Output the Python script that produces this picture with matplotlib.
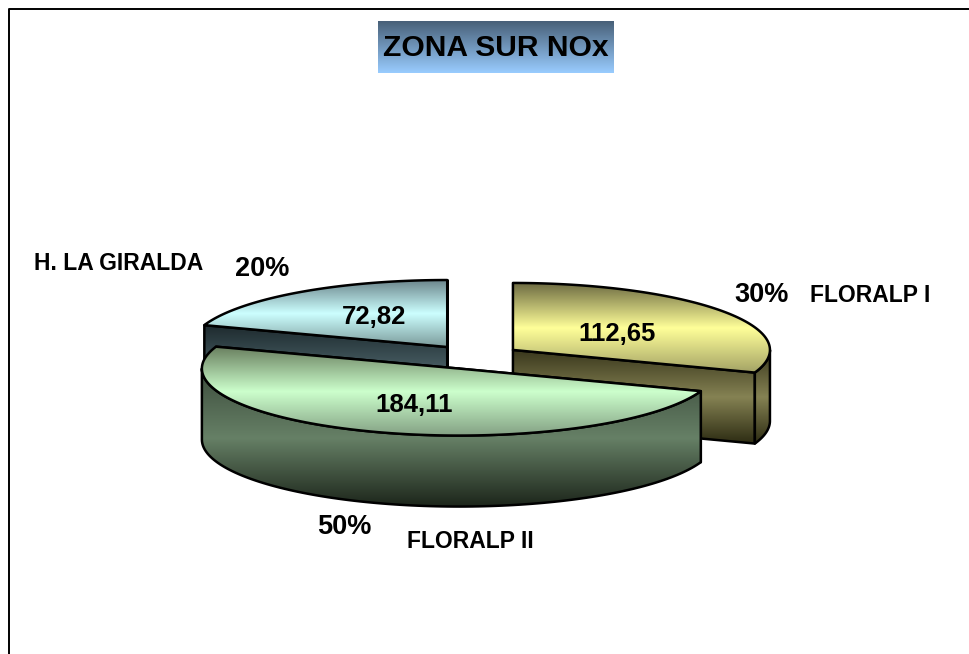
"""
ZONA SUR NOx - pie 3D con porciones separadas
"""
import matplotlib
matplotlib.use('Agg')
import matplotlib.pyplot as plt
import numpy as np
from matplotlib.colors import LinearSegmentedColormap
from matplotlib.patches import Polygon

# Datos
names = ['FLORALP I', 'FLORALP II', 'H. LA GIRALDA']
values = [112.65, 184.11, 72.82]
value_labels = ['112,65', '184,11', '72,82']
pct_labels = ['30%', '50%', '20%']
title = 'ZONA SUR NOx'

# Gradientes verticales (arriba, medio, abajo)
top_colors = [['#6d6b42', '#ffff99', '#a3a265'],
              ['#6a8060', '#ccffcc', '#83a083'],
              ['#6c868c', '#ccffff', '#7b9a9a']]
wall_colors = [['#39371c', '#858253', '#2c2b12'],
               ['#3d4d3d', '#668066', '#1c251a'],
               ['#1d2a2e', '#4a6066', '#607a80']]

# Geometria en pixeles de la imagen
CX, CY = 474.5, 357.0
RX, RY = 257.0, 67.0
DEPTH = 71.0
EXPLODE = 47.0
LW = 1.8


def rim(cx, cy, a):
    # angulo en grados, 0 arriba, sentido horario
    a = np.radians(a)
    return cx + RX * np.sin(a), cy - RY * np.cos(a)


def fill_gradient(ax, pts, colors, z):
    pts = np.asarray(pts)
    x0, x1 = pts[:, 0].min(), pts[:, 0].max()
    y0, y1 = pts[:, 1].min(), pts[:, 1].max()
    cmap = LinearSegmentedColormap.from_list('g', colors)
    grad = np.linspace(0, 1, 256).reshape(-1, 1)
    im = ax.imshow(grad, cmap=cmap, extent=(x0, x1, y1, y0), aspect='auto',
                   zorder=z, interpolation='bilinear')
    patch = Polygon(pts, closed=True, transform=ax.transData)
    im.set_clip_path(patch)
    ax.add_patch(Polygon(pts, closed=True, fill=False, edgecolor='black',
                         linewidth=LW, joinstyle='round', zorder=z + 0.1))


fig = plt.figure(figsize=(9.69, 6.54), dpi=100)
ax = fig.add_axes([0, 0, 1, 1])
ax.set_xlim(0, 969)
ax.set_ylim(654, 0)
ax.axis('off')

# Marco
ax.plot([9, 9, 969], [654, 8.5, 8.5], color='black', lw=1.4, zorder=1)

# Porciones
total = sum(values)
angles = np.concatenate([[0], np.cumsum(values) / total * 360])
draw_order = [0, 2, 1]
for rank, i in enumerate(draw_order):
    start, end = angles[i], angles[i + 1]
    mid = np.radians((start + end) / 2)
    cx = CX + EXPLODE * np.sin(mid)
    cy = CY - EXPLODE * RY / RX * np.cos(mid)
    z = 2 + rank

    # cara de corte visible
    for a in (start, end):
        if 90 < (a % 360) < 180 or 270 < (a % 360) < 360:
            px, py = rim(cx, cy, a)
            fill_gradient(ax, [(cx, cy), (px, py), (px, py + DEPTH), (cx, cy + DEPTH)],
                          wall_colors[i], z)

    # pared exterior (mitad frontal)
    a0, a1 = max(start, 90), min(end, 270)
    if a1 > a0:
        t = np.linspace(a0, a1, 120)
        xs, ys = rim(cx, cy, t)
        pts = list(zip(xs, ys)) + list(zip(xs[::-1], ys[::-1] + DEPTH))
        fill_gradient(ax, pts, wall_colors[i], z + 0.2)

    # cara superior
    t = np.linspace(start, end, 240)
    xs, ys = rim(cx, cy, t)
    fill_gradient(ax, [(cx, cy)] + list(zip(xs, ys)), top_colors[i], z + 0.4)

# Titulo
cmap = LinearSegmentedColormap.from_list('t', ['#486078', '#99ccff'])
ax.imshow(np.linspace(0, 1, 256).reshape(-1, 1), cmap=cmap,
          extent=(378, 614, 73, 21), aspect='auto', zorder=6)
ax.set_xlim(0, 969)
ax.set_ylim(654, 0)

font = 'Liberation Sans'
ax.text(496, 48, title, ha='center', va='center', fontsize=21.6, family=font,
        fontweight='bold', zorder=7)

# Etiquetas
name_pos = [(870.5, 296), (470.5, 541), (118.5, 264)]
pct_pos = [(761.5, 295), (344.5, 527), (262, 269)]
val_pos = [(617.5, 334), (414.5, 405), (374, 317)]
for i in range(3):
    ax.text(*name_pos[i], names[i], ha='center', va='center', fontsize=16.5,
            family=font, fontweight='bold', zorder=7)
    ax.text(*pct_pos[i], pct_labels[i], ha='center', va='center', fontsize=19.5,
            family=font, fontweight='bold', zorder=7)
    ax.text(*val_pos[i], value_labels[i], ha='center', va='center', fontsize=18.5,
            family=font, fontweight='bold', zorder=7)

fig.savefig('out.png', dpi=100)
